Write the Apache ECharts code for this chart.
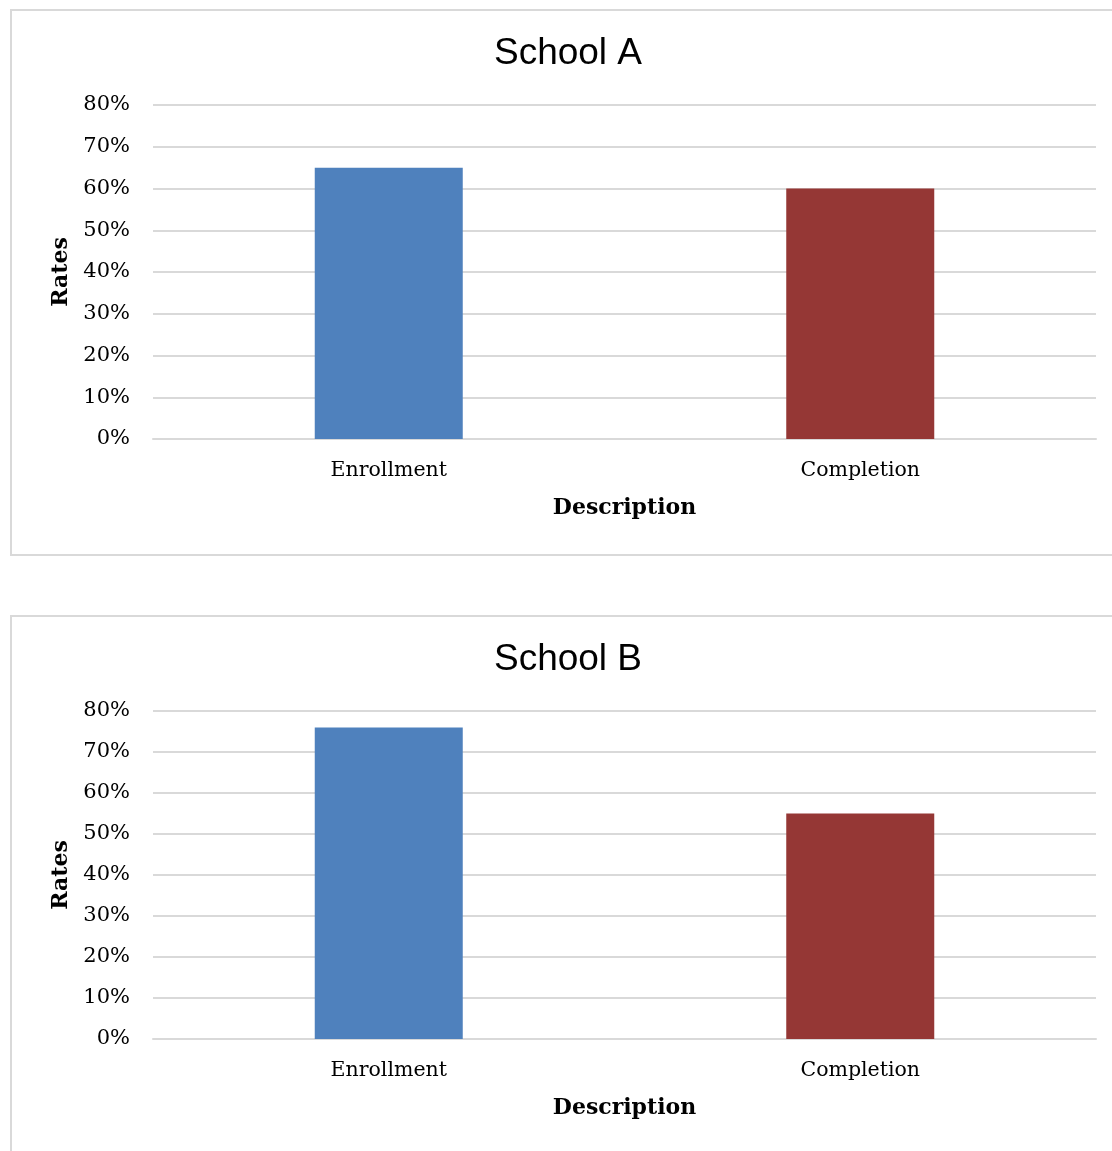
<!DOCTYPE html>
<html>
<head>
<meta charset="utf-8">
<script src="https://cdn.jsdelivr.net/npm/echarts@6/dist/echarts.min.js"></script>
<style>
  * { margin: 0; padding: 0; }
  body { width: 1112px; height: 1151px; overflow: hidden; background: #fff; position: relative; }
  .panel { position: absolute; left: 10px; width: 1120px; border: 2px solid #d9d9d9; box-sizing: border-box; background: #fff; }
  .panel div { width: 100%; height: 100%; }
</style>
</head>
<body>
<div class="panel" style="top:9px;height:547px;"><div id="chartA"></div></div>
<div class="panel" style="top:615px;height:560px;"><div id="chartB"></div></div>
<script>
// 数据
var categories = ["Enrollment", "Completion"];
var schoolA = [65, 60];
var schoolB = [76, 55];
var barColors = ["#4f81bd", "#953735"];

function drawBar(id, title, values, gridHeight) {
  var chart = echarts.init(document.getElementById(id));
  chart.setOption({
    animation: false,
    title: {
      text: title,
      left: 551,
      textAlign: "center",
      top: 19,
      textStyle: {
        fontFamily: "Liberation Sans",
        fontWeight: "normal",
        fontSize: 37,
        color: "#000"
      }
    },
    grid: { left: 141, top: 94, width: 943, height: gridHeight },
    xAxis: {
      type: "category",
      data: categories,
      name: "Description",
      nameLocation: "middle",
      nameGap: 58,
      nameTextStyle: { fontFamily: "DejaVu Serif", fontWeight: "bold", fontSize: 22, color: "#000" },
      axisLine: { lineStyle: { color: "#d9d9d9", width: 2 } },
      axisTick: { show: false },
      axisLabel: { margin: 21, fontFamily: "DejaVu Serif", fontSize: 20.5, color: "#000" }
    },
    yAxis: {
      type: "value",
      min: 0,
      max: 80,
      interval: 10,
      name: "Rates",
      nameLocation: "middle",
      nameGap: 80,
      nameTextStyle: { fontFamily: "DejaVu Serif", fontWeight: "bold", fontSize: 22, color: "#000" },
      axisLine: { show: false },
      axisTick: { show: false },
      splitLine: { lineStyle: { color: "#d9d9d9", width: 2 } },
      axisLabel: {
        margin: 23,
        fontFamily: "DejaVu Serif",
        fontSize: 21,
        color: "#000",
        formatter: function (v) { return v + "%"; }
      }
    },
    series: [{
      type: "bar",
      barWidth: 148,
      data: values.map(function (v, i) {
        return { value: v, itemStyle: { color: barColors[i] } };
      })
    }]
  });
}

drawBar("chartA", "School A", schoolA, 334);
drawBar("chartB", "School B", schoolB, 328);
</script>
</body>
</html>
